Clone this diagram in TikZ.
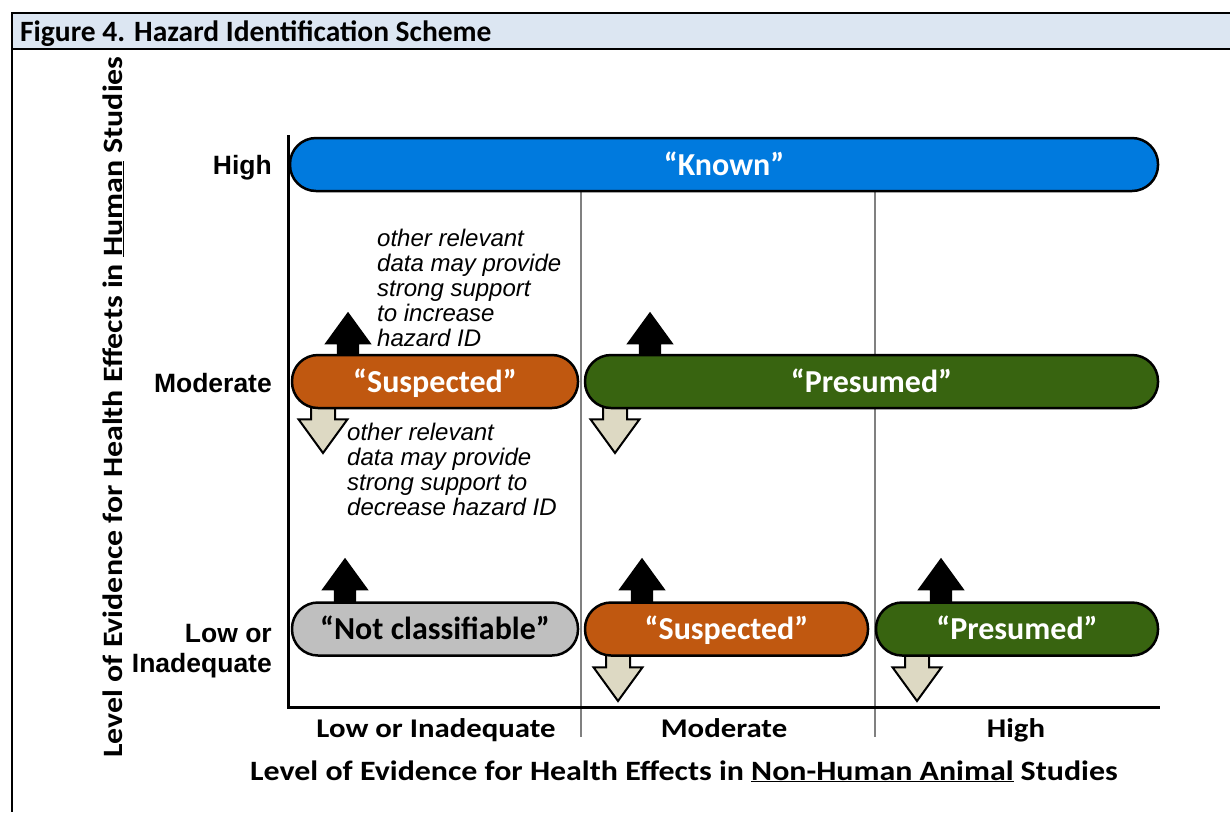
\documentclass[tikz,border=0pt]{standalone}
\usepackage{fontspec}
\setmainfont{Liberation Sans}
\newfontfamily\calibfont{Carlito}
\newfontfamily\calibwide[FakeStretch=1.14]{Carlito}
\usetikzlibrary{shapes.arrows}

\definecolor{titlebg}{RGB}{220,230,242}
\definecolor{knownblue}{RGB}{0,122,222}
\definecolor{susorange}{RGB}{192,88,16}
\definecolor{presgreen}{RGB}{56,100,16}
\definecolor{ncgray}{RGB}{191,191,191}
\definecolor{dnbeige}{RGB}{221,217,195}
\definecolor{divgray}{RGB}{128,128,128}

\begin{document}
\begin{tikzpicture}[x=1pt, y=-1pt,
  bar/.style={draw=black, line width=2.5pt, rounded corners=26pt, minimum height=53pt,
    inner sep=0pt, text=white, text height=21pt, text depth=0pt,
    font=\calibfont\bfseries\fontsize{32}{36}\selectfont},
  uparr/.style={single arrow, shape border rotate=90, fill=black, anchor=tail,
    minimum height=54pt, minimum width=47pt, inner sep=11pt,
    single arrow head extend=12.5pt, single arrow tip angle=72},
  dnarr/.style={uparr, shape border rotate=270, fill=dnbeige, draw=black, line width=2pt},
  ylab/.style={anchor=east, align=right, inner sep=0pt, font=\bfseries\fontsize{26.5}{30}\selectfont},
  xlab/.style={anchor=base, inner sep=0pt, font=\calibwide\bfseries\fontsize{27}{32}\selectfont},
  axtitle/.style={anchor=base, inner sep=0pt, font=\calibwide\bfseries\fontsize{28}{32}\selectfont},
  note/.style={anchor=west, align=left, inner sep=0pt, font=\itshape\fontsize{24}{25}\selectfont}]
\useasboundingbox (0,0) rectangle (1230,812);

% frame and title
\fill[titlebg] (12,13) rectangle (1230,49);
\draw[line width=2pt] (1230,13) -- (12,13) -- (12,812);
\draw[line width=1.5pt] (12,49) -- (1230,49);
\node[anchor=base west, inner sep=0pt, font=\calibfont\bfseries\fontsize{29.5}{32}\selectfont] (title) at (20,41) {Figure 4. Hazard Identification Scheme};

% dividers and axes
\draw[divgray, line width=2pt] (581,192) -- (581,737);
\draw[divgray, line width=2pt] (875,192) -- (875,737);
\draw[line width=3pt] (288,135) -- (288,707) -- (1160,707);

% arrows (behind the bars)
\node[uparr] (upM1) at (348,366) {};
\node[uparr] (upM2) at (650,366) {};
\node[dnarr] (dnM1) at (323,398) {};
\node[dnarr] (dnM2) at (615,398) {};
\node[uparr] (upL1) at (345,612) {};
\node[uparr] (upL2) at (642,612) {};
\node[uparr] (upL3) at (941,612) {};
\node[dnarr] (dnL2) at (618,646) {};
\node[dnarr] (dnL3) at (917,646) {};

% bars
\node[bar, fill=knownblue, minimum width=868pt] (known) at (724,164.5) {“Known”};
\node[bar, fill=susorange, minimum width=286pt] (susM) at (435,381.5) {“Suspected”};
\node[bar, fill=presgreen, minimum width=573pt] (preM) at (871.5,381.5) {“Presumed”};
\node[bar, fill=ncgray, text=black, minimum width=286pt] (ncL) at (435,629) {“Not classifiable”};
\node[bar, fill=susorange, minimum width=283pt] (susL) at (726.5,629) {“Suspected”};
\node[bar, fill=presgreen, minimum width=282pt] (preL) at (1017,629) {“Presumed”};

% notes
\node[note] (upnote) at (377,288) {other relevant\\data may provide\\strong support\\to increase\\hazard ID};
\node[note] (dnnote) at (347,469.5) {other relevant\\data may provide\\strong support to\\decrease hazard ID};

% axis labels
\node[ylab] (yHigh) at (272,168) {High};
\node[ylab] (yMod) at (272,383) {Moderate};
\node[ylab] (yLow) at (272,651) {Low or\\Inadequate};
\node[xlab] (xLow) at (436,737) {Low or Inadequate};
\node[xlab] (xMod) at (724,737) {Moderate};
\node[xlab] (xHigh) at (1016,737) {High};
\node[axtitle] (xTitle) at (684,780) {Level of Evidence for Health Effects in \underline{Non-Human Animal} Studies};
\node[axtitle, rotate=90] (yTitle) at (122,407) {Level of Evidence for Health Effects in \underline{Human} Studies};
\end{tikzpicture}
\end{document}
